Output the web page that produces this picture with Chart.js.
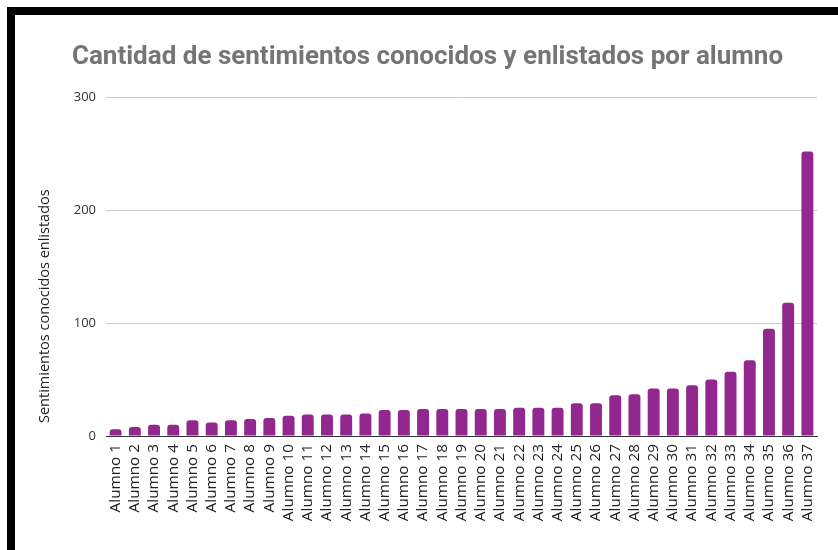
<!DOCTYPE html>
<html>
<head>
<meta charset="utf-8">
<script src="https://cdn.jsdelivr.net/npm/chart.js@4.4.0/dist/chart.umd.min.js"></script>
<style>
  html, body { margin: 0; padding: 0; background: #fff; }
  #wrap { position: relative; width: 838px; height: 550px; }
  #c { position: absolute; left: 0; top: 0; }
  #frame { position: absolute; left: 7px; top: 7px; width: 823px; height: 535px;
           border-top: 8px solid #000; border-left: 8px solid #000; border-bottom: 4px solid #000;
           pointer-events: none; }
</style>
</head>
<body>
<div id="wrap">
  <canvas id="c" width="838" height="550"></canvas>
  <div id="frame"></div>
</div>
<script>
const titleText = "Cantidad de sentimientos conocidos y enlistados por alumno";
const yAxisTitle = "Sentimientos conocidos enlistados";
const categories = ["Alumno 1","Alumno 2","Alumno 3","Alumno 4","Alumno 5","Alumno 6","Alumno 7","Alumno 8","Alumno 9","Alumno 10",
  "Alumno 11","Alumno 12","Alumno 13","Alumno 14","Alumno 15","Alumno 16","Alumno 17","Alumno 18","Alumno 19","Alumno 20",
  "Alumno 21","Alumno 22","Alumno 23","Alumno 24","Alumno 25","Alumno 26","Alumno 27","Alumno 28","Alumno 29","Alumno 30",
  "Alumno 31","Alumno 32","Alumno 33","Alumno 34","Alumno 35","Alumno 36","Alumno 37"];
const values = [6, 8, 10, 10, 14, 12, 14, 15, 16, 18,
  19, 19, 19, 20, 23, 23, 24, 24, 24, 24,
  24, 25, 25, 25, 29, 29, 36, 37, 42, 42,
  45, 50, 57, 67, 95, 118, 252];
const yTicks = [0, 100, 200, 300];

// Draws the vertical axis title, placed like the original (slightly below centre)
const yTitlePlugin = {
  id: 'yTitle',
  afterDraw(chart) {
    const ctx = chart.ctx;
    const area = chart.chartArea;
    ctx.save();
    ctx.font = '14.5px "Open Sans"';
    ctx.fillStyle = '#222222';
    ctx.textAlign = 'left';
    ctx.textBaseline = 'middle';
    ctx.translate(45, area.bottom - 13);
    ctx.rotate(-Math.PI / 2);
    ctx.fillText(yAxisTitle, 0, 0);
    ctx.restore();
  }
};

new Chart(document.getElementById('c'), {
  type: 'bar',
  data: {
    labels: categories,
    datasets: [{
      data: values,
      backgroundColor: '#92278f',
      borderRadius: { topLeft: 3, topRight: 3, bottomLeft: 0, bottomRight: 0 },
      borderSkipped: 'bottom',
      barPercentage: 0.62,
      categoryPercentage: 1.0
    }]
  },
  plugins: [yTitlePlugin],
  options: {
    responsive: false,
    animation: false,
    devicePixelRatio: 1,
    layout: { padding: { left: 38, right: 21, top: 0, bottom: 0 } },
    plugins: {
      legend: { display: false },
      tooltip: { enabled: false },
      title: {
        display: true,
        text: titleText,
        color: '#757575',
        font: { family: 'Roboto', size: 26, weight: 'bold' },
        padding: { top: 42, bottom: 24 }
      }
    },
    scales: {
      x: {
        grid: { display: false, drawTicks: false },
        border: { display: true, color: '#333333', width: 1 },
        ticks: {
          color: '#222222',
          font: { family: 'Open Sans', size: 15.3 },
          minRotation: 90, maxRotation: 90,
          padding: 8,
          autoSkip: false
        },
        afterFit: (s) => { s.height = 114; }
      },
      y: {
        min: 0, max: 300,
        afterBuildTicks: (s) => { s.ticks = yTicks.map(v => ({ value: v })); },
        grid: {
          drawTicks: false,
          color: (ctx) => ctx.tick && ctx.tick.value === 0 ? '#333333' : '#cccccc'
        },
        border: { display: false },
        ticks: {
          color: '#333333',
          font: { family: 'Open Sans', size: 13 },
          padding: 10
        },
        afterFit: (s) => { s.width = 68; }
      }
    }
  }
});
</script>
</body>
</html>
